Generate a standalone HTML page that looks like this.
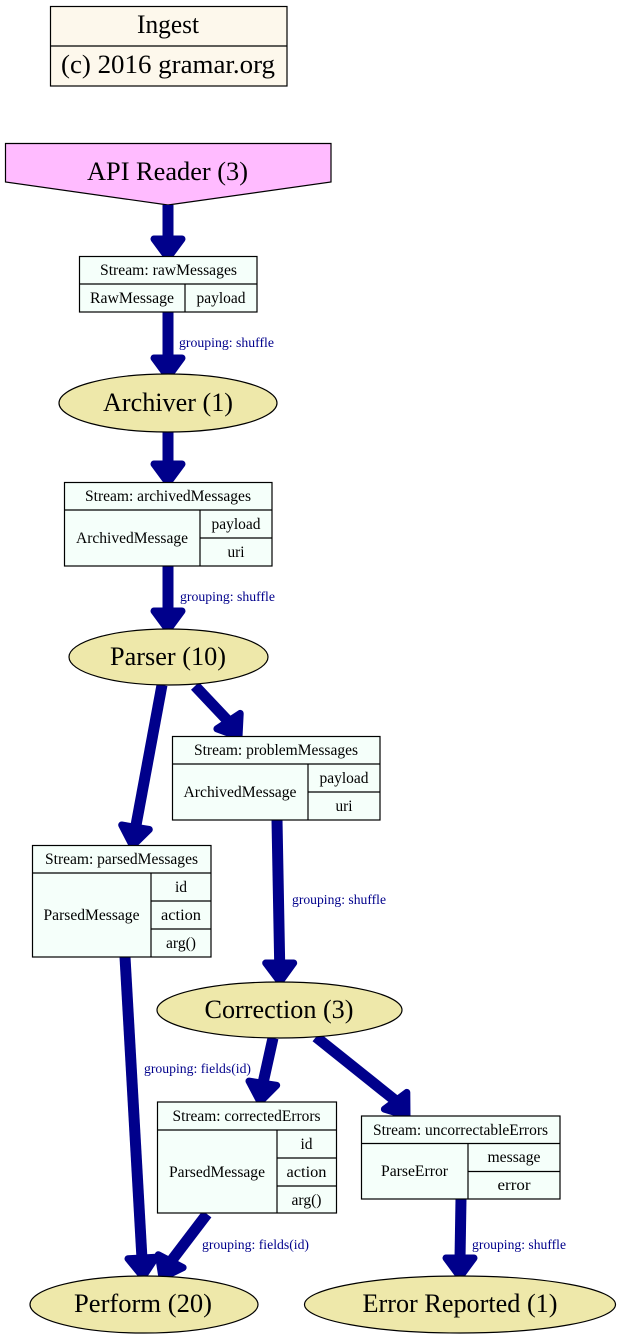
<!DOCTYPE html>
<html>
<head>
<meta charset="utf-8">
<style>
html,body{margin:0;padding:0;background:#ffffff;}
svg{display:block;}
text{font-family:"Liberation Serif","DejaVu Serif",serif;fill:#000;}
.n{font-size:26px;}
.f{font-size:15.5px;}
.e{font-size:13.5px;fill:#00008b;}
.box{fill:#f5fffa;stroke:#000;stroke-width:1.2;}
.ell{fill:#eee8aa;stroke:#000;stroke-width:1.2;}
.ln{stroke:#000;stroke-width:1.2;}
.edge{stroke:#00008b;stroke-width:11;fill:none;}
.ah{fill:#00008b;stroke:#00008b;stroke-width:7;stroke-linejoin:round;}
</style>
</head>
<body>
<svg width="621" height="1339" viewBox="0 0 621 1339" xmlns="http://www.w3.org/2000/svg">
<rect x="0" y="0" width="621" height="1339" fill="#ffffff"/>

<!-- Ingest -->
<rect x="50.5" y="6.5" width="236.5" height="79.5" fill="#fdf8ec" stroke="#000" stroke-width="1.2"/>
<line class="ln" x1="50.5" y1="46" x2="287" y2="46"/>
<text class="n" x="168" y="33" text-anchor="middle" textLength="62" lengthAdjust="spacingAndGlyphs">Ingest</text>
<text class="n" x="168" y="73" text-anchor="middle" textLength="214" lengthAdjust="spacingAndGlyphs">(c) 2016 gramar.org</text>

<!-- API Reader -->
<polygon points="5.5,143.5 331,143.5 331,182 168,205 5.5,182" fill="#ffbbff" stroke="#000" stroke-width="1.2"/>
<text class="n" x="167.5" y="180" text-anchor="middle" textLength="161" lengthAdjust="spacingAndGlyphs">API Reader (3)</text>

<!-- Edges -->
<!-- 1 API -> raw -->
<line class="edge" x1="168" y1="205" x2="168" y2="240"/>
<polygon class="ah" points="154,239 182,239 168,258"/>
<!-- 2 raw -> Archiver -->
<line class="edge" x1="168" y1="312" x2="168" y2="359"/>
<polygon class="ah" points="154,358 182,358 168,377"/>
<!-- 3 Archiver -> archived -->
<line class="edge" x1="168" y1="432" x2="168" y2="465"/>
<polygon class="ah" points="154,464 182,464 168,483"/>
<!-- 4 archived -> Parser -->
<line class="edge" x1="168" y1="566" x2="168" y2="612"/>
<polygon class="ah" points="154,611 182,611 168,630"/>
<!-- 5 Parser -> problem -->
<line class="edge" x1="195" y1="686" x2="229" y2="722"/>
<polygon class="ah" points="240.2,713.4 216.9,728.8 239,737"/>
<!-- 6 Parser -> parsed -->
<line class="edge" x1="162" y1="685" x2="135.5" y2="828"/>
<polygon class="ah" points="149.3,829.5 121.7,825 132.5,846"/>
<!-- 7 problem -> Correction -->
<line class="edge" x1="277" y1="820" x2="279.7" y2="964"/>
<polygon class="ah" points="265.7,963 293.7,963 280,982"/>
<!-- 8 parsed -> Perform -->
<line class="edge" x1="125" y1="957" x2="142" y2="1259"/>
<polygon class="ah" points="128,1258.7 156,1257.3 143,1277"/>
<!-- 9 Correction -> corrected -->
<line class="edge" x1="273" y1="1038" x2="262.8" y2="1084"/>
<polygon class="ah" points="276.7,1085.3 249,1081.1 260,1102"/>
<!-- 10 Correction -> uncorrectable -->
<line class="edge" x1="316" y1="1037" x2="396" y2="1101"/>
<polygon class="ah" points="406.8,1092.4 384.4,1109.2 407,1116"/>
<!-- 11 corrected -> Perform -->
<line class="edge" x1="207" y1="1214" x2="170.5" y2="1262"/>
<polygon class="ah" points="183.1,1267.6 158.3,1254.7 162,1278"/>
<!-- 12 uncorrectable -> Error -->
<line class="edge" x1="461" y1="1199" x2="460" y2="1259"/>
<polygon class="ah" points="446,1258 474,1258 460,1277"/>

<!-- Edge labels -->
<text class="e" x="179" y="347" textLength="95" lengthAdjust="spacingAndGlyphs">grouping: shuffle</text>
<text class="e" x="180" y="601" textLength="95" lengthAdjust="spacingAndGlyphs">grouping: shuffle</text>
<text class="e" x="292" y="904" textLength="94" lengthAdjust="spacingAndGlyphs">grouping: shuffle</text>
<text class="e" x="144" y="1073" textLength="107" lengthAdjust="spacingAndGlyphs">grouping: fields(id)</text>
<text class="e" x="202" y="1249" textLength="107" lengthAdjust="spacingAndGlyphs">grouping: fields(id)</text>
<text class="e" x="472" y="1249" textLength="94" lengthAdjust="spacingAndGlyphs">grouping: shuffle</text>

<!-- rawMessages -->
<rect class="box" x="79.5" y="256.5" width="177.5" height="55.5"/>
<line class="ln" x1="79.5" y1="284" x2="257" y2="284"/>
<line class="ln" x1="185" y1="284" x2="185" y2="312"/>
<text class="f" x="168.5" y="275" text-anchor="middle" textLength="137" lengthAdjust="spacingAndGlyphs">Stream: rawMessages</text>
<text class="f" x="132" y="303" text-anchor="middle" textLength="84" lengthAdjust="spacingAndGlyphs">RawMessage</text>
<text class="f" x="221" y="303" text-anchor="middle" textLength="49" lengthAdjust="spacingAndGlyphs">payload</text>

<!-- Archiver -->
<ellipse class="ell" cx="168" cy="403" rx="109" ry="29"/>
<text class="n" x="168" y="411" text-anchor="middle" textLength="130" lengthAdjust="spacingAndGlyphs">Archiver (1)</text>

<!-- archivedMessages -->
<rect class="box" x="64.5" y="482.5" width="207.5" height="83.5"/>
<line class="ln" x1="64.5" y1="510" x2="272" y2="510"/>
<line class="ln" x1="200" y1="510" x2="200" y2="566"/>
<line class="ln" x1="200" y1="538" x2="272" y2="538"/>
<text class="f" x="168" y="501" text-anchor="middle" textLength="166" lengthAdjust="spacingAndGlyphs">Stream: archivedMessages</text>
<text class="f" x="132" y="543" text-anchor="middle" textLength="112" lengthAdjust="spacingAndGlyphs">ArchivedMessage</text>
<text class="f" x="236" y="529" text-anchor="middle" textLength="49" lengthAdjust="spacingAndGlyphs">payload</text>
<text class="f" x="236" y="557" text-anchor="middle" textLength="17" lengthAdjust="spacingAndGlyphs">uri</text>

<!-- Parser -->
<ellipse class="ell" cx="168.5" cy="657" rx="99.5" ry="28"/>
<text class="n" x="168" y="665" text-anchor="middle" textLength="116" lengthAdjust="spacingAndGlyphs">Parser (10)</text>

<!-- problemMessages -->
<rect class="box" x="172.5" y="736.5" width="207.5" height="83.5"/>
<line class="ln" x1="172.5" y1="764" x2="380" y2="764"/>
<line class="ln" x1="308" y1="764" x2="308" y2="820"/>
<line class="ln" x1="308" y1="792" x2="380" y2="792"/>
<text class="f" x="276" y="755" text-anchor="middle" textLength="164" lengthAdjust="spacingAndGlyphs">Stream: problemMessages</text>
<text class="f" x="240" y="797" text-anchor="middle" textLength="113" lengthAdjust="spacingAndGlyphs">ArchivedMessage</text>
<text class="f" x="344" y="783" text-anchor="middle" textLength="49" lengthAdjust="spacingAndGlyphs">payload</text>
<text class="f" x="344" y="811" text-anchor="middle" textLength="17" lengthAdjust="spacingAndGlyphs">uri</text>

<!-- parsedMessages -->
<rect class="box" x="32.5" y="845.5" width="178.5" height="111.5"/>
<line class="ln" x1="32.5" y1="873" x2="211" y2="873"/>
<line class="ln" x1="151" y1="873" x2="151" y2="957"/>
<line class="ln" x1="151" y1="901" x2="211" y2="901"/>
<line class="ln" x1="151" y1="929" x2="211" y2="929"/>
<text class="f" x="121.5" y="864" text-anchor="middle" textLength="153" lengthAdjust="spacingAndGlyphs">Stream: parsedMessages</text>
<text class="f" x="91.5" y="920" text-anchor="middle" textLength="96" lengthAdjust="spacingAndGlyphs">ParsedMessage</text>
<text class="f" x="181" y="892" text-anchor="middle">id</text>
<text class="f" x="181" y="920" text-anchor="middle" textLength="40" lengthAdjust="spacingAndGlyphs">action</text>
<text class="f" x="181" y="948" text-anchor="middle" textLength="30" lengthAdjust="spacingAndGlyphs">arg()</text>

<!-- Correction -->
<ellipse class="ell" cx="279.5" cy="1010" rx="122.5" ry="28"/>
<text class="n" x="279" y="1018" text-anchor="middle" textLength="149" lengthAdjust="spacingAndGlyphs">Correction (3)</text>

<!-- correctedErrors -->
<rect class="box" x="157.5" y="1102" width="179" height="111"/>
<line class="ln" x1="157.5" y1="1130" x2="336.5" y2="1130"/>
<line class="ln" x1="277" y1="1130" x2="277" y2="1213"/>
<line class="ln" x1="277" y1="1158" x2="336.5" y2="1158"/>
<line class="ln" x1="277" y1="1186" x2="336.5" y2="1186"/>
<text class="f" x="246.5" y="1121" text-anchor="middle" textLength="148" lengthAdjust="spacingAndGlyphs">Stream: correctedErrors</text>
<text class="f" x="217" y="1177" text-anchor="middle" textLength="96" lengthAdjust="spacingAndGlyphs">ParsedMessage</text>
<text class="f" x="306.5" y="1149" text-anchor="middle">id</text>
<text class="f" x="306.5" y="1177" text-anchor="middle" textLength="40" lengthAdjust="spacingAndGlyphs">action</text>
<text class="f" x="306.5" y="1205" text-anchor="middle" textLength="30" lengthAdjust="spacingAndGlyphs">arg()</text>

<!-- uncorrectableErrors -->
<rect class="box" x="361.5" y="1116" width="198.5" height="83"/>
<line class="ln" x1="361.5" y1="1143.5" x2="560" y2="1143.5"/>
<line class="ln" x1="468" y1="1143.5" x2="468" y2="1199"/>
<line class="ln" x1="468" y1="1171.5" x2="560" y2="1171.5"/>
<text class="f" x="460.5" y="1135" text-anchor="middle" textLength="175" lengthAdjust="spacingAndGlyphs">Stream: uncorrectableErrors</text>
<text class="f" x="414.5" y="1176" text-anchor="middle" textLength="67" lengthAdjust="spacingAndGlyphs">ParseError</text>
<text class="f" x="514" y="1162" text-anchor="middle" textLength="53" lengthAdjust="spacingAndGlyphs">message</text>
<text class="f" x="514" y="1190" text-anchor="middle" textLength="33" lengthAdjust="spacingAndGlyphs">error</text>

<!-- Perform -->
<ellipse class="ell" cx="144" cy="1304.5" rx="114" ry="28.5"/>
<text class="n" x="143" y="1312" text-anchor="middle" textLength="138" lengthAdjust="spacingAndGlyphs">Perform (20)</text>

<!-- Error Reported -->
<ellipse class="ell" cx="460" cy="1304.5" rx="155.5" ry="28.5"/>
<text class="n" x="460" y="1312" text-anchor="middle" textLength="195" lengthAdjust="spacingAndGlyphs">Error Reported (1)</text>
</svg>
</body>
</html>
